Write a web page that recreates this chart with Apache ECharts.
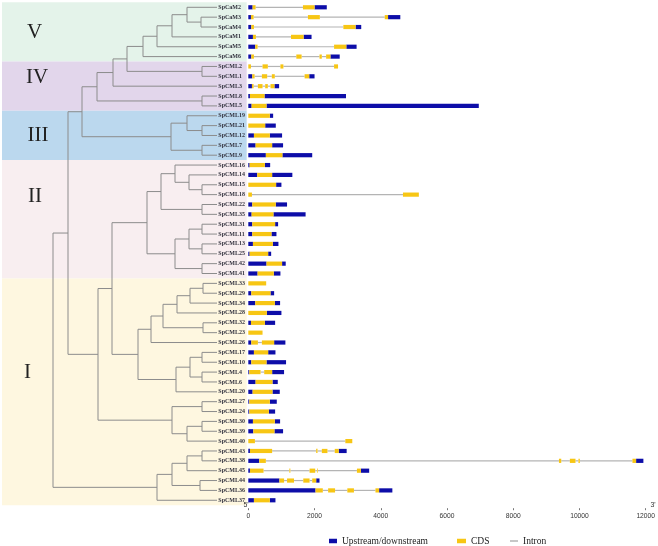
<!DOCTYPE html>
<html><head><meta charset="utf-8">
<script src="https://cdn.jsdelivr.net/npm/echarts@6/dist/echarts.min.js"></script>
<style>html,body{margin:0;padding:0;background:#fff}#c{width:658px;height:546px}</style>
</head><body><div id="c"></div>
<script>
// ---- data ----
const geneNames = ['SpCaM2','SpCaM3','SpCaM4','SpCaM1','SpCaM5','SpCaM6','SpCML2','SpCML1','SpCML3','SpCML8','SpCML5',
  'SpCML19','SpCML21','SpCML12','SpCML7','SpCML9',
  'SpCML16','SpCML14','SpCML15','SpCML18','SpCML22','SpCML35','SpCML31','SpCML11','SpCML13','SpCML25','SpCML42','SpCML41',
  'SpCML33','SpCML29','SpCML34','SpCML28','SpCML32','SpCML23','SpCML26','SpCML17','SpCML10','SpCML4','SpCML6','SpCML20',
  'SpCML27','SpCML24','SpCML30','SpCML39','SpCML40','SpCML43','SpCML38','SpCML45','SpCML44','SpCML36','SpCML37'];
// U = upstream/downstream, C = CDS, I = intron
const geneTypes = ['UCICU','UCICICU','UCICU','UCICU','UCICU','UCICICICU','CICICIC','UCICICICU','UCICICICU','UCU','UCU',
  'CU','CU','UCU','UCU','UCU',
  'UCU','UCU','CU','CIC','UCU','UCU','UCU','UCU','UCU','UCU','UCU','UCU',
  'C','UCU','UCU','CU','UCU','C','UCICU','UCU','UCU','UCICU','UCU','UCU',
  'UCU','UCU','UCU','UCU','CIC','UCICICICU','UCICICICICU','UCICICICICU','UCICICICU','UCICICICU','UCU'];
const geneBounds = [
  [0,130,220,1650,2000,2370],
  [0,80,160,1800,2160,4120,4220,4590],
  [0,90,170,2870,3240,3410],
  [0,140,230,1290,1670,1910],
  [0,210,280,2590,2960,3270],
  [0,90,170,1450,1610,2150,2220,2350,2480,2760],
  [0,80,430,590,970,1060,2590,2710],
  [0,120,190,410,570,710,800,1700,1840,2000],
  [0,110,160,290,430,510,590,670,790,930],
  [0,50,490,2950],
  [0,100,550,6960],
  [0,650,750],
  [0,510,830],
  [0,170,650,1020],
  [0,220,720,1050],
  [0,530,1030,1930],
  [0,40,500,660],
  [0,270,720,1330],
  [0,840,1000],
  [0,110,4670,5150],
  [0,120,830,1170],
  [0,100,760,1730],
  [0,120,810,900],
  [0,120,700,850],
  [0,140,740,910],
  [0,40,600,690],
  [0,550,1020,1130],
  [0,280,770,970],
  [0,540],
  [0,90,670,780],
  [0,210,800,960],
  [0,560,1000],
  [0,80,500,810],
  [0,430],
  [0,90,290,410,780,1120],
  [0,170,600,820],
  [0,90,550,1140],
  [0,30,370,480,720,1080],
  [0,220,730,890],
  [0,130,730,950],
  [0,30,650,860],
  [0,30,620,810],
  [0,140,800,960],
  [0,150,790,1050],
  [0,200,2930,3140],
  [0,50,720,2050,2090,2220,2390,2610,2730,2970],
  [0,330,530,9380,9450,9710,9880,9970,10010,11600,11710,11930],
  [0,50,460,1240,1270,1850,2020,2080,2100,3280,3400,3650],
  [0,940,1080,1170,1380,1660,1850,1930,2050,2150],
  [0,2030,2250,2410,2620,2990,3190,3840,3950,4350],
  [0,170,650,820]
];
const axisMin = 0, axisMax = 12000, axisStep = 2000;
// phylogenetic tree: [nodeDepth, child, child]; leaves sit at tipDepth
const tipDepth = 164;
const tree = [0,
  [15,
    [29,
      [44,
        [60,
          [74,
            [90,
              [104,
                [119,
                  [134, 'SpCaM2', [148, 'SpCaM3', 'SpCaM4']],
                  'SpCaM1'],
                'SpCaM5'],
              'SpCaM6'],
            [149, 'SpCML2', 'SpCML1']],
          'SpCML3'],
        [149, 'SpCML8', 'SpCML5']],
      [118,
        [134, 'SpCML19', [149, 'SpCML21', 'SpCML12']],
        [149, 'SpCML7', 'SpCML9']]],
    [45,
      [59,
        [94,
          [108,
            [122, 'SpCML16', [136, 'SpCML14', [149, 'SpCML15', 'SpCML18']]],
            [149, 'SpCML22', 'SpCML35']],
          [122,
            [136, [149, 'SpCML31', 'SpCML11'], [149, 'SpCML13', 'SpCML25']],
            [149, 'SpCML42', 'SpCML41']]],
        [85,
          [98,
            [110,
              [124, [137, [150, 'SpCML33', 'SpCML29'], 'SpCML34'], 'SpCML28'],
              [150, 'SpCML32', 'SpCML23']],
            'SpCML26'],
          [123,
            [137, [149, 'SpCML17', 'SpCML10'], [149, 'SpCML4', 'SpCML6']],
            'SpCML20']]],
      [119,
        [149, 'SpCML27', 'SpCML24'],
        [134, [149, 'SpCML30', 'SpCML39'], 'SpCML40']]]],
  [104,
    [119,
      [134, [149, 'SpCML43', 'SpCML38'], 'SpCML45'],
      [147, 'SpCML44', 'SpCML36']],
    'SpCML37']];
const cladeNames = ['V','IV','III','II','I'];
const cladeFirst = [0, 6, 11, 16, 28];
const cladeLast = [5, 10, 15, 27, 50];

// ---- styles ----
const BLUE = '#0d0da8', YELLOW = '#f7c614', GREY = '#b4b4b4', TREE = '#8c8c8c';
const cladeColors = ['#e4f3ea', '#e2d6eb', '#bbd8ee', '#f8eef0', '#fef7e0'];

// ---- build series data ----
const upData = [], cdsData = [], intronData = [];
geneNames.forEach((g, r) => {
  const t = geneTypes[r], b = geneBounds[r];
  for (let k = 0; k < t.length; k++) {
    const item = [r, b[k], b[k + 1]];
    if (t[k] === 'U') upData.push(item);
    else if (t[k] === 'C') cdsData.push(item);
    else intronData.push(item);
  }
});
const treeSegs = [];
function layout(node) {
  if (typeof node === 'string') return { x: tipDepth, y: geneNames.indexOf(node) };
  const d = node[0];
  const kids = node.slice(1).map(layout);
  const y0 = kids[0].y, y1 = kids[kids.length - 1].y;
  treeSegs.push([d, y0, d, y1]);
  kids.forEach(k => treeSegs.push([d, k.y, k.x, k.y]));
  return { x: d, y: (y0 + y1) / 2 };
}
layout(tree);
const bandData = cladeNames.map((n, i) => [cladeFirst[i] - 0.5, cladeLast[i] + 0.5, i]);

function rectSeries(name, data, color, h) {
  return {
    name, type: 'custom', xAxisIndex: 0, yAxisIndex: 0, data, z: h > 2 ? 4 : 3,
    itemStyle: { color },
    encode: { x: [1, 2], y: 0 },
    renderItem(params, api) {
      const r = api.value(0);
      const p1 = api.coord([api.value(1), r]);
      const p2 = api.coord([api.value(2), r]);
      return { type: 'rect', shape: { x: p1[0], y: p1[1] - h / 2, width: p2[0] - p1[0], height: h },
        style: { fill: color } };
    }
  };
}

const TOP = 2.37, H = 502.83;
const legendText = { fontFamily: 'Liberation Serif', fontSize: 9.5, color: '#222' };
const chart = echarts.init(document.getElementById('c'), null, { renderer: 'canvas' });
chart.setOption({
  animation: false,
  backgroundColor: '#fff',
  grid: [
    { left: 248.3, top: TOP, width: 399.7, height: H },
    { left: 2, top: TOP, width: 244.7, height: H }
  ],
  xAxis: [
    { type: 'value', gridIndex: 0, min: axisMin, max: axisMax, interval: axisStep, offset: 3,
      axisLine: { lineStyle: { color: '#777', width: 1 } },
      axisTick: { show: true, length: 2, lineStyle: { color: '#777' } },
      splitLine: { show: false },
      axisLabel: { fontSize: 6.7, color: '#333', margin: 4, fontFamily: 'Liberation Sans',
        formatter: v => String(v) } },
    { type: 'value', gridIndex: 1, min: -51, max: 193.7, show: false }
  ],
  yAxis: [
    { type: 'category', gridIndex: 0, inverse: true, data: geneNames, z: 20,
      axisLine: { show: false }, axisTick: { show: false }, splitLine: { show: false },
      axisLabel: { interval: 0, align: 'left', margin: 30, fontSize: 6, fontWeight: 'bold',
        fontFamily: 'Liberation Serif', color: '#33333f' } },
    { type: 'value', gridIndex: 1, inverse: true, min: -0.5, max: 50.5, show: false }
  ],
  legend: [
    { data: [{ name: 'Upstream/downstream', icon: 'rect' }], left: 324, top: 531, itemWidth: 8, itemHeight: 4.5,
      selectedMode: false, textStyle: legendText },
    { data: [{ name: 'CDS', icon: 'rect' }], left: 452, top: 531, itemWidth: 9, itemHeight: 4.5,
      selectedMode: false, textStyle: legendText },
    { data: [{ name: 'Intron', icon: 'rect' }], left: 505, top: 531, itemWidth: 8, itemHeight: 1.5,
      selectedMode: false, textStyle: legendText }
  ],
  series: [
    { name: 'bands', type: 'custom', xAxisIndex: 1, yAxisIndex: 1, data: bandData, z: 1, silent: true,
      encode: { y: [0, 1] },
      renderItem(params, api) {
        const cs = params.coordSys;
        const a = api.coord([0, api.value(0)]), b = api.coord([0, api.value(1)]);
        return { type: 'rect', shape: { x: cs.x, y: a[1], width: cs.width, height: b[1] - a[1] },
          style: { fill: cladeColors[api.value(2)] } };
      } },
    { name: 'tree', type: 'custom', xAxisIndex: 1, yAxisIndex: 1, data: treeSegs, z: 2, silent: true,
      encode: { x: [0, 2], y: [1, 3] },
      renderItem(params, api) {
        const a = api.coord([api.value(0), api.value(1)]), b = api.coord([api.value(2), api.value(3)]);
        return { type: 'line', shape: { x1: a[0], y1: a[1], x2: b[0], y2: b[1] },
          style: { stroke: TREE, lineWidth: 1 } };
      } },
    rectSeries('Intron', intronData, GREY, 1.2),
    rectSeries('Upstream/downstream', upData, BLUE, 4.2),
    rectSeries('CDS', cdsData, YELLOW, 4.2)
  ],
  graphic: [
    ...[[34.7, 32], [37, 77.3], [38, 135], [35, 196.7], [27.5, 372.7]].map((p, i) => ({
      type: 'text', x: p[0], y: p[1], z: 10,
      style: { text: cladeNames[i], fontSize: 21, fontFamily: 'Liberation Serif', fill: '#222',
        align: 'center', verticalAlign: 'middle' } })),
    { type: 'text', x: 246, y: 505.5, z: 10, style: { text: "5'", fontSize: 7, fontFamily: 'Liberation Sans', fill: '#333', align: 'center', verticalAlign: 'middle' } },
    { type: 'text', x: 653, y: 505.5, z: 10, style: { text: "3'", fontSize: 7, fontFamily: 'Liberation Sans', fill: '#333', align: 'center', verticalAlign: 'middle' } }
  ]
});
</script></body></html>
